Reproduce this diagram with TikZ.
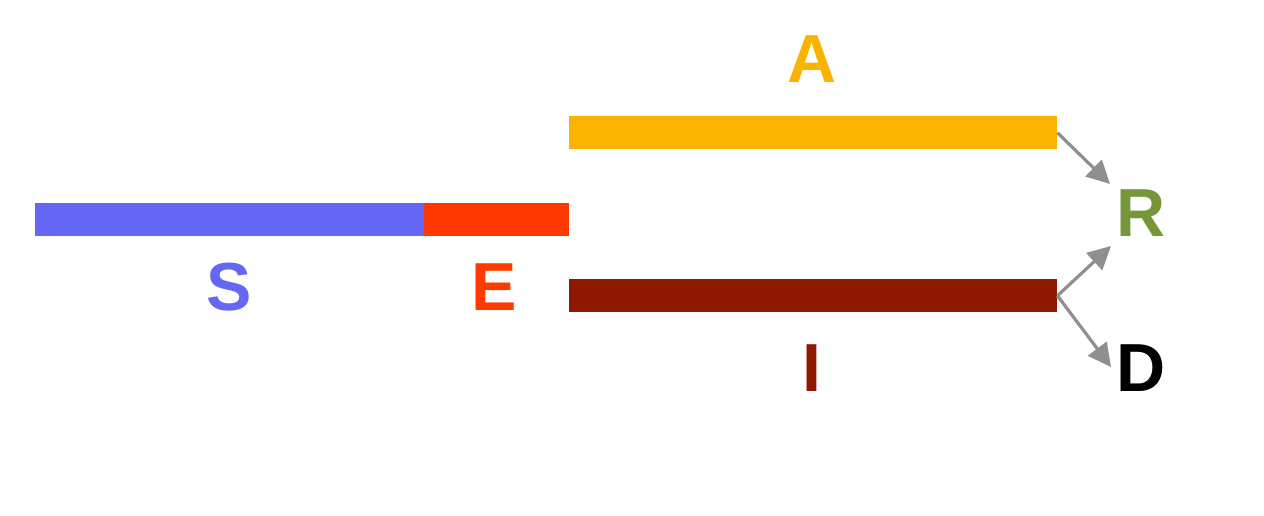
\documentclass[tikz,border=0pt]{standalone}
\usepackage{fontspec}
\setmainfont{Liberation Sans}
\usetikzlibrary{arrows.meta}
\definecolor{cS}{HTML}{6666F5}
\definecolor{cE}{HTML}{FF3A00}
\definecolor{cA}{HTML}{F9B300}
\definecolor{cI}{HTML}{8E1800}
\definecolor{cR}{HTML}{77963A}
\definecolor{cArr}{HTML}{8F8F8F}
\begin{document}
\begin{tikzpicture}[x=1pt,y=-1pt,
  bar/.style={draw=none,minimum height=33pt,inner sep=0pt,anchor=north west},
  lbl/.style={font=\fontsize{68}{68}\selectfont\bfseries,inner sep=0pt},
  arr/.style={draw=cArr,line width=3.2pt,-{Triangle[length=23pt,width=23pt]}}]
\useasboundingbox (0,0) rectangle (1264,516);
\node[bar,fill=cS,minimum width=389pt] (Sbar) at (35,203) {};
\node[bar,fill=cE,minimum width=145pt] (Ebar) at (424,203) {};
\node[bar,fill=cA,minimum width=488pt] (Abar) at (569,116) {};
\node[bar,fill=cI,minimum width=488pt] (Ibar) at (569,279) {};
\node[lbl,text=cS] (S) at (229,287.5) {S};
\node[lbl,text=cE] (E) at (494,287.5) {E};
\node[lbl,text=cA] (A) at (812,59.5) {A};
\node[lbl,text=cI] (I) at (812,368) {I};
\node[lbl,text=cR] (R) at (1141.5,213) {R};
\node[lbl,text=black] (D) at (1141.5,368) {D};
\coordinate (tAR) at (1110,184);
\coordinate (tIR) at (1111,246);
\coordinate (tID) at (1111,367);
\draw[arr] (Abar.east) -- (tAR);
\draw[arr] (Ibar.east) -- (tIR);
\draw[arr] (Ibar.east) -- (tID);
\end{tikzpicture}
\end{document}
